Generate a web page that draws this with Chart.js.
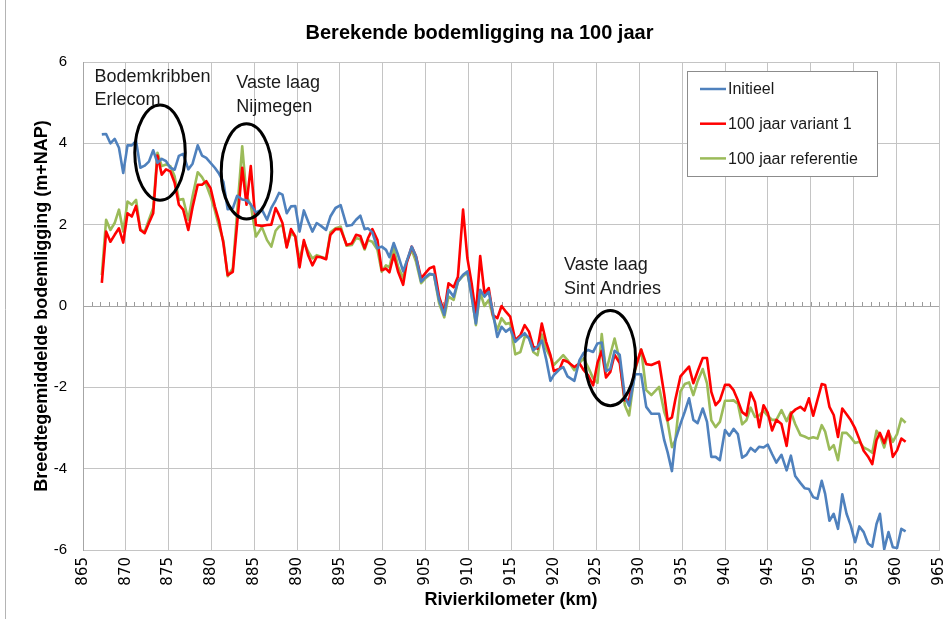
<!DOCTYPE html>
<html>
<head>
<meta charset="utf-8">
<title>Berekende bodemligging na 100 jaar</title>
<script src="https://cdn.jsdelivr.net/npm/chart.js@4.4.0/dist/chart.umd.min.js"></script>
<style>
  html, body { margin: 0; padding: 0; background: #fff; }
  #wrap { width: 951px; height: 619px; position: relative; }
</style>
</head>
<body>
<div id="wrap"><canvas id="bodemChart" width="951" height="619"></canvas></div>
<script>
// rivierkilometers van de rekenpunten
const km = [
  867.2, 867.7, 868.2, 868.7, 869.2, 869.7, 870.2, 870.7, 871.2, 871.7,
  872.2, 872.7, 873.2, 873.7, 874.2, 874.7, 875.2, 875.7, 876.2, 876.7,
  877.3, 877.8, 878.4, 878.9, 879.4, 879.9, 880.4, 880.9, 881.4, 881.9,
  882.5, 883.0, 883.6, 884.1, 884.6, 885.2, 885.9, 886.5, 887.0, 887.5,
  887.9, 888.3, 888.8, 889.3, 889.8, 890.3, 890.8, 891.3, 891.8, 892.3,
  892.8, 893.4, 893.9, 894.5, 895.1, 895.8, 896.4, 896.9, 897.4, 897.9,
  898.3, 898.8, 899.4, 899.9, 900.4, 900.8, 901.3, 901.8, 902.4, 902.8,
  903.4, 903.9, 904.5, 905.0, 905.5, 906.0, 906.6, 907.2, 907.7, 908.3,
  908.8, 909.4, 909.9, 910.4, 910.9, 911.4, 911.9, 912.4, 912.9, 913.4,
  913.9, 914.4, 914.9, 915.5, 916.1, 916.6, 917.1, 917.6, 918.1, 918.6,
  919.1, 919.6, 920.0, 920.7, 921.1, 921.6, 922.4, 923.0, 923.5, 924.0,
  924.6, 925.1, 925.6, 926.1, 926.6, 927.1, 927.7, 928.3, 928.8, 929.5,
  930.2, 930.8, 931.4, 932.3, 932.9, 933.3, 933.8, 934.2, 934.8, 935.3,
  935.8, 936.3, 936.8, 937.4, 937.9, 938.4, 938.9, 939.4, 940.0, 940.5,
  941.0, 941.5, 942.0, 942.5, 943.0, 943.5, 944.0, 944.5, 945.0, 945.5,
  946.0, 946.6, 947.2, 947.7, 948.2, 948.8, 949.3, 949.8, 950.3, 950.8,
  951.3, 951.7, 952.2, 952.7, 953.2, 953.7, 954.2, 954.7, 955.2, 955.7,
  956.2, 956.7, 957.2, 957.7, 958.1, 958.6, 959.1, 959.6, 960.1, 960.6,
  961.1
];

const initieel = [
  4.22, 4.23, 4.00, 4.11, 3.89, 3.27, 3.95, 3.95, 4.06, 3.40,
  3.45, 3.55, 3.83, 3.52, 3.62, 3.56, 3.40, 3.35, 3.69, 3.74,
  3.36, 3.50, 3.95, 3.70, 3.64, 3.52, 3.40, 3.25, 3.05, 2.38,
  2.40, 2.71, 2.62, 2.60, 2.50, 2.30, 2.37, 2.12, 2.41, 2.60,
  2.78, 2.74, 2.28, 2.45, 2.46, 1.83, 2.35, 2.08, 1.83, 2.04,
  1.97, 1.87, 2.20, 2.41, 2.48, 1.97, 1.99, 2.12, 2.22, 1.89,
  1.91, 1.81, 1.42, 1.46, 1.38, 1.20, 1.55, 1.26, 0.85, 1.09,
  1.46, 1.22, 0.60, 0.71, 0.79, 0.77, 0.15, -0.22, 0.40, 0.23,
  0.60, 0.77, 0.85, 0.23, -0.43, 0.40, 0.23, 0.35, -0.18, -0.76,
  -0.51, -0.63, -0.55, -0.88, -0.76, -0.67, -0.80, -1.09, -1.00, -0.85,
  -1.30, -1.84, -1.70, -1.55, -1.50, -1.73, -1.84, -1.33, -1.15, -1.08,
  -1.13, -0.92, -0.90, -1.60, -1.55, -1.10, -1.20, -2.23, -2.45, -1.68,
  -1.68, -2.48, -2.65, -2.65, -3.30, -3.60, -4.06, -3.30, -2.90, -2.60,
  -2.27, -2.80, -2.88, -2.52, -2.85, -3.71, -3.71, -3.79, -3.05, -3.19,
  -3.02, -3.15, -3.73, -3.66, -3.49, -3.58, -3.46, -3.48, -3.41, -3.64,
  -3.85, -3.66, -4.04, -3.68, -4.18, -4.35, -4.48, -4.50, -4.70, -4.74,
  -4.30, -4.62, -5.28, -5.11, -5.48, -4.63, -5.11, -5.40, -5.81, -5.42,
  -5.56, -5.84, -5.92, -5.36, -5.11, -5.98, -5.56, -5.93, -5.95, -5.48,
  -5.54
];

const variant1 = [
  0.57, 1.83, 1.58, 1.75, 1.91, 1.56, 2.28, 2.20, 2.46, 1.87,
  1.79, 2.04, 2.28, 3.70, 3.23, 3.36, 3.31, 3.03, 2.49, 2.37,
  1.87, 2.43, 2.98, 2.98, 3.07, 2.90, 2.45, 2.08, 1.54, 0.76,
  0.84, null, 3.40, 2.49, 3.44, 1.99, 1.97, 1.99, 2.00, 2.41,
  2.24, 2.04, 1.44, 1.89, 1.71, 0.95, 1.62, 1.25, 1.00, 1.21,
  1.20, 1.15, 1.75, 1.89, 1.89, 1.50, 1.54, 1.75, 1.72, 1.42,
  1.67, 1.89, 1.62, 0.88, 0.92, 0.83, 1.26, 0.85, 0.52, 1.05,
  1.46, 1.22, 0.68, 0.81, 0.93, 0.97, 0.23, -0.16, 0.56, 0.46,
  0.72, 2.37, 1.18, 0.56, -0.22, 1.23, 0.31, 0.44, -0.22, -0.30,
  0.00, -0.14, -0.26, -0.84, -0.72, -0.47, -0.63, -1.00, -1.05, -0.43,
  -0.88, -1.20, -1.60, -1.54, -1.33, -1.37, -1.50, -1.41, -1.58, -1.70,
  -1.95, -1.40, -1.10, -1.76, -1.62, -1.20, -1.40, -2.32, -2.30, -1.54,
  -1.07, -1.43, -1.45, -1.37, -2.17, -2.81, -2.74, -2.30, -1.73, -1.61,
  -1.49, -1.90, -1.61, -1.28, -1.28, -2.11, -2.44, -2.32, -1.94, -1.94,
  -2.07, -2.32, -2.61, -2.69, -2.13, -2.36, -2.98, -2.44, -2.63, -3.06,
  -2.80, -2.90, -3.44, -2.65, -2.55, -2.48, -2.57, -2.27, -2.70, -2.31,
  -1.92, -1.94, -2.48, -2.68, -3.22, -2.52, -2.66, -2.81, -3.01, -3.28,
  -3.56, -3.70, -3.89, -3.30, -3.12, -3.37, -3.07, -3.71, -3.55, -3.26,
  -3.34
];

const referentie = [
  0.76, 2.12, 1.87, 2.04, 2.37, 1.83, 2.57, 2.49, 2.61, 1.87,
  1.83, 2.12, 2.41, 3.77, 3.44, 3.48, 3.44, 3.19, 2.61, 2.63,
  2.12, 2.70, 3.29, 3.17, 2.98, 2.70, 2.35, 1.95, 1.60, 0.73,
  0.92, null, 3.93, 2.70, 2.49, 1.71, 1.94, 1.62, 1.46, 1.85,
  1.95, 1.99, 1.46, 1.79, 1.71, 1.13, 1.58, 1.34, 1.17, 1.25,
  1.21, 1.17, 1.81, 1.91, 1.95, 1.48, 1.50, 1.67, 1.64, 1.39,
  1.62, 1.58, 1.38, 0.84, 1.00, 0.95, 1.42, 0.97, 0.68, 1.09,
  1.38, 1.09, 0.56, 0.68, 0.77, 0.77, 0.07, -0.28, 0.23, 0.15,
  0.60, 0.74, 0.82, 0.27, -0.47, 0.33, 0.00, 0.15, -0.26, -0.59,
  -0.30, -0.44, -0.41, -1.19, -1.13, -0.76, -0.76, -1.13, -1.21, -0.70,
  -1.05, -1.25, -1.45, -1.30, -1.21, -1.33, -1.58, -1.40, -1.29, -1.50,
  -1.78, -1.89, -0.69, -1.62, -1.20, -0.80, -1.33, -2.44, -2.69, -1.58,
  -1.07, -2.07, -2.19, -1.99, -2.60, -2.85, -3.47, -3.30, -2.10, -1.92,
  -1.88, -2.19, -1.85, -1.55, -1.90, -2.81, -2.98, -2.85, -2.33, -2.33,
  -2.32, -2.40, -2.91, -2.81, -2.50, -2.73, -2.69, -2.58, -2.70, -2.80,
  -2.80, -2.56, -2.83, -2.61, -2.90, -3.17, -3.21, -3.26, -3.23, -3.26,
  -2.93, -3.09, -3.53, -3.42, -3.79, -3.12, -3.12, -3.23, -3.37, -3.34,
  -3.48, -3.53, -3.61, -3.07, -3.18, -3.48, -3.09, -3.34, -3.15, -2.77,
  -2.87
];

const seriesLabels = ['Initieel', '100 jaar variant 1', '100 jaar referentie'];
const seriesColors = ['#4f81bd', '#ff0000', '#9bbb59'];

const FONT = "'Liberation Sans', Arial, sans-serif";

// toelichting bij de vaste lagen / kribben
const gebieden = [
  { tekst: ['Bodemkribben', 'Erlecom'], tekstKm: 866.35, tekstY: 5.51, km: 874.0, y: 3.77 },
  { tekst: ['Vaste laag', 'Nijmegen'], tekstKm: 882.9, tekstY: 5.36, km: 884.1, y: 3.31 },
  { tekst: ['Vaste laag', 'Sint Andries'], tekstKm: 921.2, tekstY: 0.88, km: 926.6, y: -1.28 }
];

function toPoints(values) {
  return km.map((k, i) => ({ x: k, y: values[i] }));
}

const annotatiePlugin = {
  id: 'annotaties',
  afterLayout(chart) {
    // titel iets naar rechts, boven het midden van het grafiekvlak
    if (chart.titleBlock) chart.titleBlock.left += 20;
  },
  beforeDatasetsDraw(chart) {
    const { ctx, chartArea, scales: { x, y } } = chart;
    // kleine maatstreepjes langs de nullijn
    const y0 = y.getPixelForValue(0);
    ctx.save();
    ctx.strokeStyle = '#9a9a9a';
    ctx.lineWidth = 1;
    ctx.beginPath();
    for (let k = 866; k < 965; k++) {
      const px = Math.round(x.getPixelForValue(k)) + 0.5;
      ctx.moveTo(px, y0 - 4);
      ctx.lineTo(px, y0);
    }
    ctx.stroke();
    ctx.strokeStyle = '#a6a6a6';
    ctx.beginPath();
    ctx.moveTo(chartArea.left, Math.round(y0) + 0.5);
    ctx.lineTo(chartArea.right, Math.round(y0) + 0.5);
    ctx.stroke();
    ctx.restore();
  },
  afterDatasetsDraw(chart) {
    const { ctx, chartArea, scales: { x, y } } = chart;
    ctx.save();

    // ellipsen + teksten
    gebieden.forEach(g => {
      const cx = x.getPixelForValue(g.km);
      const cy = y.getPixelForValue(g.y);
      const rx = x.getPixelForValue(g.km + 2.95) - cx;
      const ry = cy - y.getPixelForValue(g.y + 1.17);
      ctx.strokeStyle = '#000';
      ctx.lineWidth = 3;
      ctx.beginPath();
      ctx.ellipse(cx, cy, rx, ry, 0, 0, Math.PI * 2);
      ctx.stroke();

      ctx.fillStyle = '#1a1a1a';
      ctx.font = '18px ' + FONT;
      ctx.textAlign = 'left';
      ctx.textBaseline = 'alphabetic';
      const tx = x.getPixelForValue(g.tekstKm);
      const ty = y.getPixelForValue(g.tekstY);
      g.tekst.forEach((regel, i) => ctx.fillText(regel, tx, ty + i * 23.5));
    });

    // legenda rechtsboven in het grafiekvlak
    const bx = chartArea.right - 252, by = chartArea.top + 9, bw = 190, bh = 105;
    ctx.fillStyle = '#fff';
    ctx.fillRect(bx, by, bw, bh);
    ctx.strokeStyle = '#8c8c8c';
    ctx.lineWidth = 1;
    ctx.strokeRect(bx + 0.5, by + 0.5, bw, bh);
    ctx.font = '16px ' + FONT;
    ctx.textBaseline = 'middle';
    chart.data.datasets.forEach((ds, i) => {
      const ly = by + 18 + i * 34.7;
      ctx.strokeStyle = ds.borderColor;
      ctx.lineWidth = 2.5;
      ctx.beginPath();
      ctx.moveTo(bx + 13, ly);
      ctx.lineTo(bx + 39, ly);
      ctx.stroke();
      ctx.fillStyle = '#1a1a1a';
      ctx.fillText(ds.label, bx + 41, ly + 1);
    });

    ctx.restore();
  },
  afterDraw(chart) {
    // rand van het grafiekkader links
    const { ctx, height } = chart;
    ctx.save();
    ctx.strokeStyle = '#b4b4b4';
    ctx.lineWidth = 1;
    ctx.beginPath();
    ctx.moveTo(5.5, 0);
    ctx.lineTo(5.5, height);
    ctx.stroke();
    ctx.restore();
  }
};

new Chart(document.getElementById('bodemChart'), {
  type: 'line',
  data: {
    datasets: [initieel, variant1, referentie].map((values, i) => ({
      label: seriesLabels[i],
      data: toPoints(values),
      borderColor: seriesColors[i],
      backgroundColor: seriesColors[i],
      borderWidth: 2.6,
      pointRadius: 0,
      tension: 0,
      spanGaps: true,
      borderJoinStyle: 'round',
      fill: false
    }))
  },
  options: {
    responsive: false,
    animation: false,
    devicePixelRatio: 1,
    layout: { padding: { left: 0, right: 12, top: 0, bottom: 0 } },
    plugins: {
      legend: { display: false },
      tooltip: { enabled: false },
      title: {
        display: true,
        text: 'Berekende bodemligging na 100 jaar',
        color: '#000',
        font: { family: FONT, size: 20, weight: 'bold' },
        padding: { top: 21, bottom: 17 }
      }
    },
    scales: {
      x: {
        type: 'linear',
        min: 865,
        max: 965,
        afterFit(scale) {
          scale.height = 69;
          scale.paddingLeft = 0;
          scale.paddingRight = 0;
        },
        ticks: {
          stepSize: 5,
          autoSkip: false,
          minRotation: 90,
          maxRotation: 90,
          padding: 7,
          color: '#000',
          font: { family: "'DejaVu Sans', sans-serif", size: 15 }
        },
        grid: { color: '#c4c4c4', lineWidth: 1, drawTicks: false },
        border: { color: '#c4c4c4' },
        title: {
          display: true,
          text: 'Rivierkilometer (km)',
          color: '#000',
          font: { family: FONT, size: 18, weight: 'bold' },
          padding: { top: 2, bottom: 8 }
        }
      },
      y: {
        min: -6,
        max: 6,
        afterFit(scale) { scale.width = 83; },
        ticks: {
          stepSize: 2,
          padding: 16,
          color: '#000',
          font: { family: FONT, size: 15 }
        },
        grid: { color: '#c4c4c4', lineWidth: 1, drawTicks: false },
        border: { color: '#a6a6a6' },
        title: {
          display: true,
          text: 'Breedtegemiddelde bodemligging (m+NAP)',
          color: '#000',
          font: { family: FONT, size: 18, weight: 'bold' },
          padding: { top: 31, bottom: 0 }
        }
      }
    }
  },
  plugins: [annotatiePlugin]
});
</script>
</body>
</html>
